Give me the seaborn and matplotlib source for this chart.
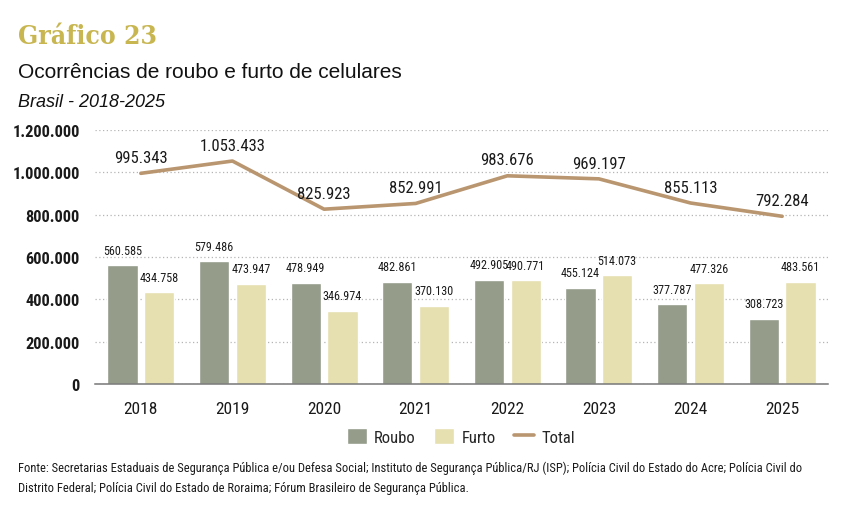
import numpy as np
import pandas as pd
import matplotlib

matplotlib.use("Agg")
import matplotlib.pyplot as plt
import seaborn as sns
from matplotlib.ticker import FuncFormatter, MultipleLocator, FixedLocator
from matplotlib.patches import Patch
from matplotlib.lines import Line2D

anos = ["2018", "2019", "2020", "2021", "2022", "2023", "2024", "2025"]
roubo = [560585, 579486, 478949, 482861, 492905, 455124, 377787, 308723]
furto = [434758, 473947, 346974, 370130, 490771, 514073, 477326, 483561]
total = [995343, 1053433, 825923, 852991, 983676, 969197, 855113, 792284]

COR_ROUBO = "#959c89"
COR_FURTO = "#e6dfb0"
COR_TOTAL = "#b9966f"
COR_TITULO = "#c8b651"
COR_TEXTO = "#1a1a1a"

FONTE = ["Liberation Sans Narrow", "Roboto Condensed", "DejaVu Sans"]


def br(v):
    return f"{int(v):,}".replace(",", ".")


sns.set_theme(style="white")
plt.rcParams["font.family"] = FONTE

df = pd.DataFrame({"ano": anos, "Roubo": roubo, "Furto": furto})
longo = df.melt(id_vars="ano", var_name="tipo", value_name="valor")
df_total = pd.DataFrame({"ano": anos, "Total": total})

fig = plt.figure(figsize=(8.46, 5.06), dpi=100)
ax = fig.add_axes([0.1123, 0.2391, 0.8664, 0.502])

sns.barplot(data=longo, x="ano", y="valor", hue="tipo",
            palette=[COR_ROUBO, COR_FURTO], width=0.8, gap=0.175,
            errorbar=None, legend=False, ax=ax, saturation=1)

sns.pointplot(data=df_total, x="ano", y="Total", color=COR_TOTAL,
              markers="", errorbar=None, ax=ax, linewidth=2.6)

for cont, vals in zip(ax.containers, [roubo, furto]):
    ax.bar_label(cont, labels=[br(v) for v in vals], padding=6,
                 fontsize=8.7, color=COR_TEXTO)

for i, v in enumerate(total):
    ax.annotate(br(v), (i, v), xytext=(0, 6), textcoords="offset points",
                ha="center", va="bottom", fontsize=12, color=COR_TEXTO)

ax.set_ylim(0, 1200000)
ax.set_xlim(-0.5, len(anos) - 0.5)
ax.yaxis.set_major_locator(MultipleLocator(200000))
ax.yaxis.set_major_formatter(FuncFormatter(lambda v, p: br(v)))
ax.grid(axis="y", linestyle=(0, (1, 2)), color="#b5b5b5", linewidth=0.9)
ax.set_axisbelow(True)

for s in ["left", "right", "top"]:
    ax.spines[s].set_visible(False)
ax.spines["bottom"].set_color("#777777")
ax.spines["bottom"].set_linewidth(1.1)

ax.xaxis.set_minor_locator(FixedLocator(np.arange(-0.5, len(anos), 1.0)))
ax.tick_params(axis="x", which="minor", length=8, width=1.1, color="#777777")
ax.tick_params(axis="x", which="major", length=0, pad=12, labelsize=12.5)
ax.tick_params(axis="y", length=0, pad=11, labelsize=11.8)
for lab in ax.get_yticklabels():
    lab.set_fontweight("bold")
for lab in ax.get_xticklabels() + ax.get_yticklabels():
    lab.set_color(COR_TEXTO)
ax.set_xlabel("")
ax.set_ylabel("")

handles = [Patch(facecolor=COR_ROUBO, label="Roubo"),
           Patch(facecolor=COR_FURTO, label="Furto"),
           Line2D([0], [0], color=COR_TOTAL, linewidth=2.6, label="Total")]
fig.legend(handles=handles, loc="center", bbox_to_anchor=(0.545, 0.136),
           ncol=3, frameon=False, handlelength=1.2, handleheight=1.1,
           columnspacing=1.1, handletextpad=0.45,
           prop={"size": 12})

fig.text(0.021, 0.953, "Gráfico 23", fontsize=19, fontweight="bold",
         fontstretch="condensed", color=COR_TITULO,
         family=["DejaVu Serif"], va="top")
fig.text(0.021, 0.875, "Ocorrências de roubo e furto de celulares",
         fontsize=15, color="#111111", family=["Liberation Sans", "DejaVu Sans"],
         va="top")
fig.text(0.021, 0.815, "Brasil - 2018-2025", fontsize=13, style="italic",
         color="#111111", family=["Liberation Sans", "DejaVu Sans"], va="top")

fonte = ("Fonte: Secretarias Estaduais de Segurança Pública e/ou Defesa Social; "
         "Instituto de Segurança Pública/RJ (ISP); Polícia Civil do Estado do Acre; "
         "Polícia Civil do\nDistrito Federal; Polícia Civil do Estado de Roraima; "
         "Fórum Brasileiro de Segurança Pública.")
fig.text(0.021, 0.088, fonte, fontsize=9.0, color=COR_TEXTO, va="top",
         linespacing=1.75)

fig.savefig("out.png", dpi=100, facecolor="white")
